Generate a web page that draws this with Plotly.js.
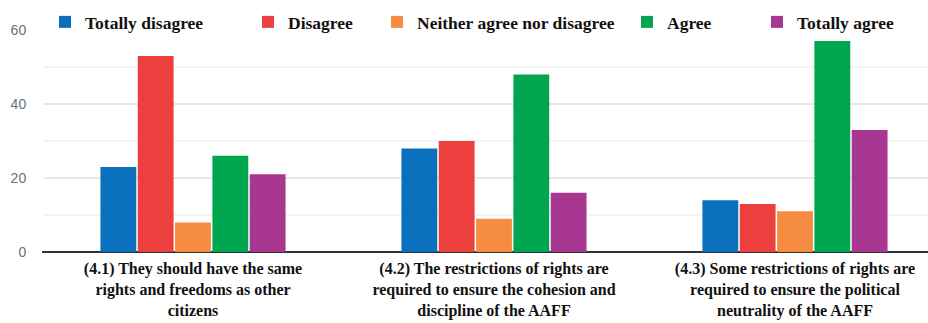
<!DOCTYPE html>
<html>
<head>
<meta charset="utf-8">
<script src="https://cdn.plot.ly/plotly-3.0.1.min.js"></script>
<style>
html,body{margin:0;padding:0;background:#fff;}
#chart{width:928px;height:323px;}
</style>
</head>
<body>
<div id="chart"></div>
<script>
const categories = [
  "(4.1) They should have the same<br>rights and freedoms as other<br>citizens",
  "(4.2) The restrictions of rights are<br>required to ensure the cohesion and<br>discipline of the AAFF",
  "(4.3) Some restrictions of rights are<br>required to ensure the political<br>neutrality of the AAFF"
];
const seriesNames = ["Totally disagree", "Disagree", "Neither agree nor disagree", "Agree", "Totally agree"];
const totallyDisagree = [23, 28, 14];
const disagree = [53, 30, 13];
const neither = [8, 9, 11];
const agree = [26, 48, 57];
const totallyAgree = [21, 16, 33];
const yTicks = [0, 20, 40, 60];
const majorGrid = [20, 40];
const minorGrid = [10, 30, 50];

const seriesValues = [totallyDisagree, disagree, neither, agree, totallyAgree];
const colors = ["#0a6fbd", "#eb403d", "#f58c42", "#00a54f", "#a83792"];
const legendWidths = [158, 84, 205, 85, 100];
const serif = "Liberation Serif";
const none = "rgba(0,0,0,0)";

const xIdx = categories.map((c, i) => i);
const traces = seriesNames.map((name, k) => ({
  type: "bar",
  name: name,
  x: xIdx,
  y: seriesValues[k],
  marker: {color: colors[k], line: {width: 0}},
  legendwidth: legendWidths[k],
  hoverinfo: "y+name"
}));

const gridShape = (v, color) => ({
  type: "line", layer: "below", xref: "paper", x0: 0, x1: 1, yref: "y", y0: v, y1: v,
  line: {color: color, width: 1}
});
const shapes = majorGrid.map(v => gridShape(v, "#d0d0d0"))
  .concat(minorGrid.map(v => gridShape(v, "#e8e8e8")))
  .concat([{
    type: "line", layer: "above", xref: "paper", x0: 0, x1: 0, yref: "y", y0: 0.4, y1: 60,
    line: {color: "#ffffff", width: 3}
  }]);

const layout = {
  width: 928,
  height: 323,
  margin: {l: 42, r: 0, t: 30, b: 71, autoexpand: false},
  paper_bgcolor: "#fff",
  plot_bgcolor: "#fff",
  barmode: "group",
  bargap: 0.38,
  bargroupgap: 0.04,
  showlegend: true,
  shapes: shapes,
  legend: {
    orientation: "h",
    xref: "container",
    yref: "container",
    x: 45 / 928,
    y: 1 - 4 / 323,
    xanchor: "left",
    yanchor: "top",
    bgcolor: none,
    font: {family: serif, size: 17.5, color: "#111", weight: "bold"},
    traceorder: "normal"
  },
  xaxis: {
    tickmode: "array",
    tickvals: xIdx,
    ticktext: categories,
    range: [-0.5017, 2.4419],
    showgrid: false,
    showline: false,
    zeroline: false,
    showspikes: false,
    ticks: "outside",
    ticklen: 2,
    tickcolor: none,
    tickfont: {family: serif, size: 16, color: "#111", weight: "bold"},
    fixedrange: true
  },
  yaxis: {
    range: [0, 60],
    tickmode: "array",
    tickvals: yTicks,
    ticktext: yTicks.map(String),
    showgrid: false,
    showline: false,
    zeroline: true,
    zerolinecolor: "#333",
    zerolinewidth: 2,
    showspikes: false,
    ticks: "outside",
    ticklen: 12,
    tickcolor: none,
    tickfont: {family: "Liberation Sans", size: 14, color: "#6a6f78"},
    fixedrange: true
  }
};

Plotly.newPlot("chart", traces, layout, {displayModeBar: false, staticPlot: true});
</script>
</body>
</html>
